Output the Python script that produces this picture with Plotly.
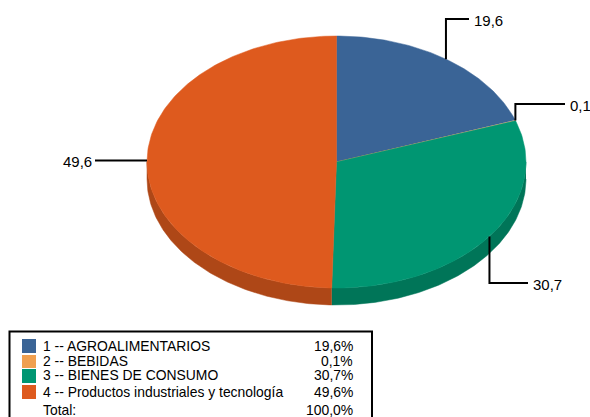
"""3D-looking pie of sector shares, drawn as filled ellipse slices with a boxed legend."""

import numpy as np
import plotly.graph_objects as go

CATEGORIES = ["1 -- AGROALIMENTARIOS", "2 -- BEBIDAS", "3 -- BIENES DE CONSUMO",
              "4 -- Productos industriales y tecnología"]
VALUES = [19.6, 0.1, 30.7, 49.6]
LABELS = ["19,6", "0,1", "30,7", "49,6"]
LEGEND_PCT = ["19,6%", "0,1%", "30,7%", "49,6%"]
TOTAL_LABEL = "Total:"
TOTAL_PCT = "100,0%"

COLORS = ["#3A6496", "#F0A050", "#009672", "#DE5A1E"]
SIDE_COLORS = ["#2A4A70", "#B47A3C", "#007558", "#AE4717"]

FONT = "Liberation Sans, Arial, sans-serif"

# pie geometry, in page pixels
CX, CY = 336.5, 162.0
RX, RY = 189.5, 126.0
DEPTH = 17.0

# leader line: y of the elbow (or None for straight), x of the end, label anchor
LEADERS = [
    (19.0, 469.0, "left"),
    (104.0, 565.0, "left"),
    (283.0, 528.0, "left"),
    (None, 95.0, "right"),
]
LEGEND_ROWS_Y = [346, 361, 375, 392]
SWATCH_BOXES = [(339, 353), (355, 368), (369, 383), (385, 399)]
TOTAL_Y = 410


def ellipse_xy(angle, dy=0.0):
    """Point on the pie rim; angle in radians clockwise from 12 o'clock."""
    return CX + RX * np.sin(angle), CY - RY * np.cos(angle) + dy


def add_poly(fig, x, y, color):
    fig.add_trace(go.Scatter(
        x=x, y=y, mode="lines", fill="toself", fillcolor=color,
        line={"color": color, "width": 0.5},
        hoverinfo="skip", showlegend=False,
    ))


fig = go.Figure()

shares = np.array(VALUES) / sum(VALUES)
edges = np.concatenate([[0.0], np.cumsum(shares)]) * 2 * np.pi

# side wall: only the front half of the rim shows
for i in range(len(VALUES)):
    a0 = max(edges[i], np.pi / 2)
    a1 = min(edges[i + 1], 3 * np.pi / 2)
    if a1 <= a0:
        continue
    t = np.linspace(a0, a1, 120)
    x_top, y_top = ellipse_xy(t)
    x_bot, y_bot = ellipse_xy(t[::-1], DEPTH)
    add_poly(fig, np.concatenate([x_top, x_bot]), np.concatenate([y_top, y_bot]), SIDE_COLORS[i])

# top face
for i in range(len(VALUES)):
    t = np.linspace(edges[i], edges[i + 1], max(int(400 * shares[i]), 4))
    x_rim, y_rim = ellipse_xy(t)
    add_poly(fig, np.concatenate([[CX], x_rim, [CX]]), np.concatenate([[CY], y_rim, [CY]]), COLORS[i])

# leader lines and value labels
for i, (elbow_y, end_x, anchor) in enumerate(LEADERS):
    mid = (edges[i] + edges[i + 1]) / 2
    x0, y0 = ellipse_xy(mid)
    if elbow_y is None:
        xs, ys = [x0, end_x], [y0, y0]
    else:
        xs, ys = [x0, x0, end_x], [y0, elbow_y, elbow_y]
    fig.add_trace(go.Scatter(x=xs, y=ys, mode="lines", line={"color": "black", "width": 2},
                             hoverinfo="skip", showlegend=False))
    fig.add_annotation(x=end_x + (5 if anchor == "left" else -3), y=ys[-1] + 1, text=LABELS[i],
                       showarrow=False, xanchor=anchor, yanchor="middle", borderpad=0, borderwidth=0,
                       font={"family": FONT, "size": 15, "color": "black"})

# legend box, running off the bottom of the page
shapes = [{"type": "rect", "xref": "x", "yref": "y", "x0": 9.5, "x1": 372, "y0": 331.5, "y1": 425,
           "line": {"color": "black", "width": 2}, "fillcolor": "white"}]
for i, (y0, y1) in enumerate(SWATCH_BOXES):
    shapes.append({"type": "rect", "xref": "x", "yref": "y", "x0": 22, "x1": 36, "y0": y0, "y1": y1,
                   "line": {"width": 0}, "fillcolor": COLORS[i]})

rows = list(zip(CATEGORIES, LEGEND_PCT, LEGEND_ROWS_Y)) + [(TOTAL_LABEL, TOTAL_PCT, TOTAL_Y)]
for name, pct, y in rows:
    fig.add_annotation(x=43, y=y, text=name, showarrow=False, xanchor="left", yanchor="middle",
                       borderpad=0, borderwidth=0,
                       font={"family": FONT, "size": 13.9, "color": "black"})
    fig.add_annotation(x=353, y=y, text=pct, showarrow=False, xanchor="right", yanchor="middle",
                       borderpad=0, borderwidth=0,
                       font={"family": FONT, "size": 13.9, "color": "black"})

fig.update_layout(
    width=590, height=417,
    margin={"l": 0, "r": 0, "t": 0, "b": 0},
    paper_bgcolor="white", plot_bgcolor="white",
    shapes=shapes,
    xaxis={"range": [0, 590], "visible": False, "fixedrange": True},
    yaxis={"range": [417, 0], "visible": False, "fixedrange": True},
)

# the page's default body margin would push the chart 8px in
fig.write_html("out.html", config={"displayModeBar": False},
               post_script="document.body.style.margin='0';document.body.style.overflow='hidden';")
